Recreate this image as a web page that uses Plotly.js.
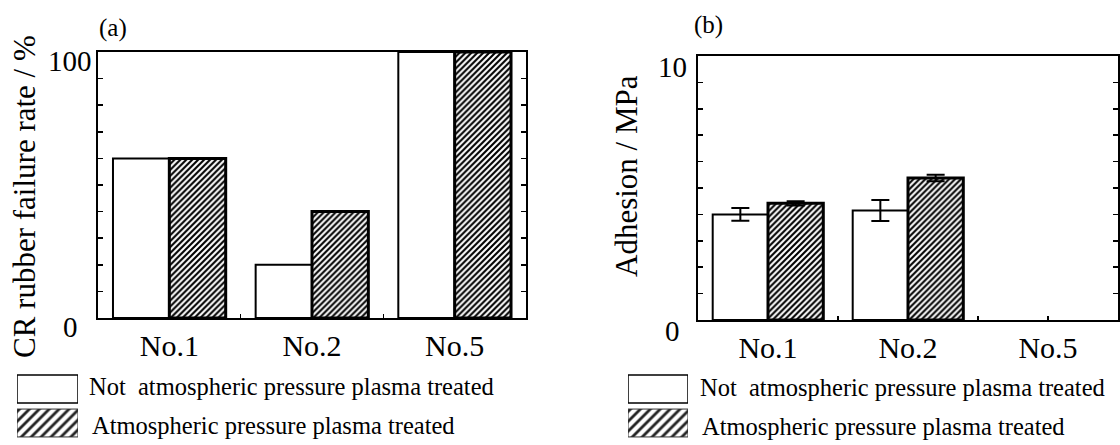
<!DOCTYPE html>
<html>
<head>
<meta charset="utf-8">
<script src="https://cdn.plot.ly/plotly-3.0.1.min.js"></script>
<style>html,body{margin:0;padding:0;background:#fff;}#chart{width:1120px;height:445px;}</style>
</head>
<body>
<div id="chart"></div>
<script>
// ---- data ----
const categories = ['No.1', 'No.2', 'No.5'];
const seriesNames = ['Not  atmospheric pressure plasma treated', 'Atmospheric pressure plasma treated'];
const failureNotTreated = [60, 20, 100];
const failureTreated = [60, 40, 100];
const adhesionNotTreated = [4.0, 4.15, null];
const adhesionNotTreatedErr = [0.24, 0.4, null];
const adhesionTreated = [4.42, 5.38, null];
const adhesionTreatedErr = [0.08, 0.12, null];
const panelLabels = ['(a)', '(b)'];
const yTitles = ['CR rubber failure rate / %', 'Adhesion / MPa'];
const yTickLabelsA = [0, 100];
const yTickLabelsB = [0, 10];
const swatchValue = [1];

// ---- helpers ----
const xIdx = categories.map((c, i) => i);
const xTickVals = [];
const xTickText = [];
categories.forEach((c, i) => {
  xTickVals.push(i); xTickText.push(c);
  if (i < categories.length - 1) { xTickVals.push(i + 0.5); xTickText.push(''); }
});
const FONT = '"Liberation Serif", "Times New Roman", serif';
const whiteMarker = {color: '#ffffff', line: {color: '#000', width: 2}};
const hatchMarker = {color: '#ffffff', line: {color: '#000', width: 3},
  pattern: {shape: '/', size: 4.2, solidity: 0.5, fgcolor: '#000', bgcolor: '#fff', fillmode: 'replace'}};
const errStyle = {color: '#000', thickness: 2, width: 9};

const traces = [
  {type: 'bar', x: xIdx, y: failureNotTreated, name: seriesNames[0], marker: whiteMarker, xaxis: 'x', yaxis: 'y', showlegend: false},
  {type: 'bar', x: xIdx, y: failureTreated, name: seriesNames[1], marker: hatchMarker, xaxis: 'x', yaxis: 'y', showlegend: false},
  {type: 'bar', x: xIdx, y: adhesionNotTreated, name: seriesNames[0], marker: whiteMarker, xaxis: 'x2', yaxis: 'y2', showlegend: false,
    error_y: Object.assign({type: 'data', array: adhesionNotTreatedErr, visible: true}, errStyle)},
  {type: 'bar', x: xIdx, y: adhesionTreated, name: seriesNames[1], marker: hatchMarker, xaxis: 'x2', yaxis: 'y2', showlegend: false,
    error_y: Object.assign({type: 'data', array: adhesionTreatedErr, visible: true}, errStyle)}
];

// legend swatches (one pair per panel)
const swatchWhite = {color: '#ffffff', line: {color: '#000', width: 1.5}};
const swatchHatch = {color: '#ffffff', line: {color: '#333', width: 1},
  pattern: {shape: '/', size: 7, solidity: 0.4, fgcolor: '#222', bgcolor: '#fff', fillmode: 'replace'}};
['3', '4'].forEach(k => {
  traces.push({type: 'bar', orientation: 'h', x: swatchValue, y: [0], width: 0.82, offset: -0.41,
    marker: swatchWhite, xaxis: 'x' + k, yaxis: 'y' + k, showlegend: false, hoverinfo: 'skip'});
  traces.push({type: 'bar', orientation: 'h', x: swatchValue, y: [1], width: 0.82, offset: -0.41,
    marker: swatchHatch, xaxis: 'x' + k, yaxis: 'y' + k, showlegend: false, hoverinfo: 'skip'});
});

function xAxis(domain, anchor) {
  return {domain: domain, anchor: anchor, range: [-0.5, 2.5], tickmode: 'array', tickvals: xTickVals, ticktext: xTickText,
    ticks: 'inside', ticklen: 4, tickwidth: 1.5, tickcolor: '#000', showline: true, linecolor: '#000', linewidth: 2,
    mirror: true, showgrid: false, zeroline: false, tickfont: {family: FONT, size: 30, color: '#000'}, ticklabelstandoff: 0, fixedrange: true};
}
function yAxis(domain, anchor, max, step) {
  return {domain: domain, anchor: anchor, range: [0, max], tickmode: 'linear', tick0: 0, dtick: step,
    ticks: 'inside', ticklen: 5, tickwidth: 1.5, tickcolor: '#000', showline: true, linecolor: '#000', linewidth: 2,
    mirror: 'ticks', showgrid: false, zeroline: false, showticklabels: false, fixedrange: true};
}
function hidden(domain, anchor, range) {
  return {domain: domain, anchor: anchor, range: range, visible: false, showgrid: false, zeroline: false, fixedrange: true};
}

const H = 445, W = 1120;
const annotations = [];
const txt = (t, x, y, size, extra) => annotations.push(Object.assign({text: t, x: x, y: y, xref: 'paper', yref: 'paper', showarrow: false,
  font: {family: FONT, size: size, color: '#000'}}, extra || {}));

// panel labels
txt(panelLabels[0], 97 / W, 1 - 28 / H, 25, {xanchor: 'left', yanchor: 'middle'});
txt(panelLabels[1], 692 / W, 1 - 25 / H, 25, {xanchor: 'left', yanchor: 'middle'});
// y titles
txt(yTitles[0], 25 / W, 1 - 197 / H, 31, {textangle: -90, xanchor: 'center', yanchor: 'middle'});
txt(yTitles[1], 627 / W, 1 - 176 / H, 31, {textangle: -90, xanchor: 'center', yanchor: 'middle'});
// y tick labels
yTickLabelsA.forEach(v => annotations.push({text: String(v), x: 70 / W, xref: 'paper', y: v, yref: 'y', yshift: -9, showarrow: false,
  xanchor: 'center', yanchor: 'middle', font: {family: FONT, size: 29, color: '#000'}}));
yTickLabelsB.forEach(v => annotations.push({text: String(v), x: 672 / W, xref: 'paper', y: v, yref: 'y2', yshift: -11, showarrow: false,
  xanchor: 'center', yanchor: 'middle', font: {family: FONT, size: 29, color: '#000'}}));
// legend texts
txt(seriesNames[0], 87 / W, 1 - 386 / H, 24.5, {xanchor: 'left', yanchor: 'middle'});
txt(seriesNames[1], 90 / W, 1 - 425 / H, 24.5, {xanchor: 'left', yanchor: 'middle'});
txt(seriesNames[0], 698 / W, 1 - 387 / H, 24.5, {xanchor: 'left', yanchor: 'middle'});
txt(seriesNames[1], 700 / W, 1 - 426 / H, 24.5, {xanchor: 'left', yanchor: 'middle'});

const layout = {
  width: W, height: H, margin: {l: 0, r: 0, t: 0, b: 0}, paper_bgcolor: '#fff', plot_bgcolor: '#fff',
  font: {family: FONT, color: '#000'}, barmode: 'group', bargap: 0.21, bargroupgap: 0, showlegend: false,
  xaxis: xAxis([98 / W, 526 / W], 'y'),
  yaxis: yAxis([1 - 318 / H, 1 - 52 / H], 'x', 100, 10),
  xaxis2: xAxis([698 / W, 1118 / W], 'y2'),
  yaxis2: yAxis([1 - 320 / H, 1 - 56 / H], 'x2', 10, 1),
  xaxis3: hidden([17 / W, 78 / W], 'y3', [0, 1]),
  yaxis3: hidden([1 - 440 / H, 1 - 372 / H], 'x3', [1.5, -0.5]),
  xaxis4: hidden([628 / W, 688 / W], 'y4', [0, 1]),
  yaxis4: hidden([1 - 440 / H, 1 - 372 / H], 'x4', [1.5, -0.5]),
  annotations: annotations
};

Plotly.newPlot('chart', traces, layout, {staticPlot: true, displayModeBar: false});
</script>
</body>
</html>
